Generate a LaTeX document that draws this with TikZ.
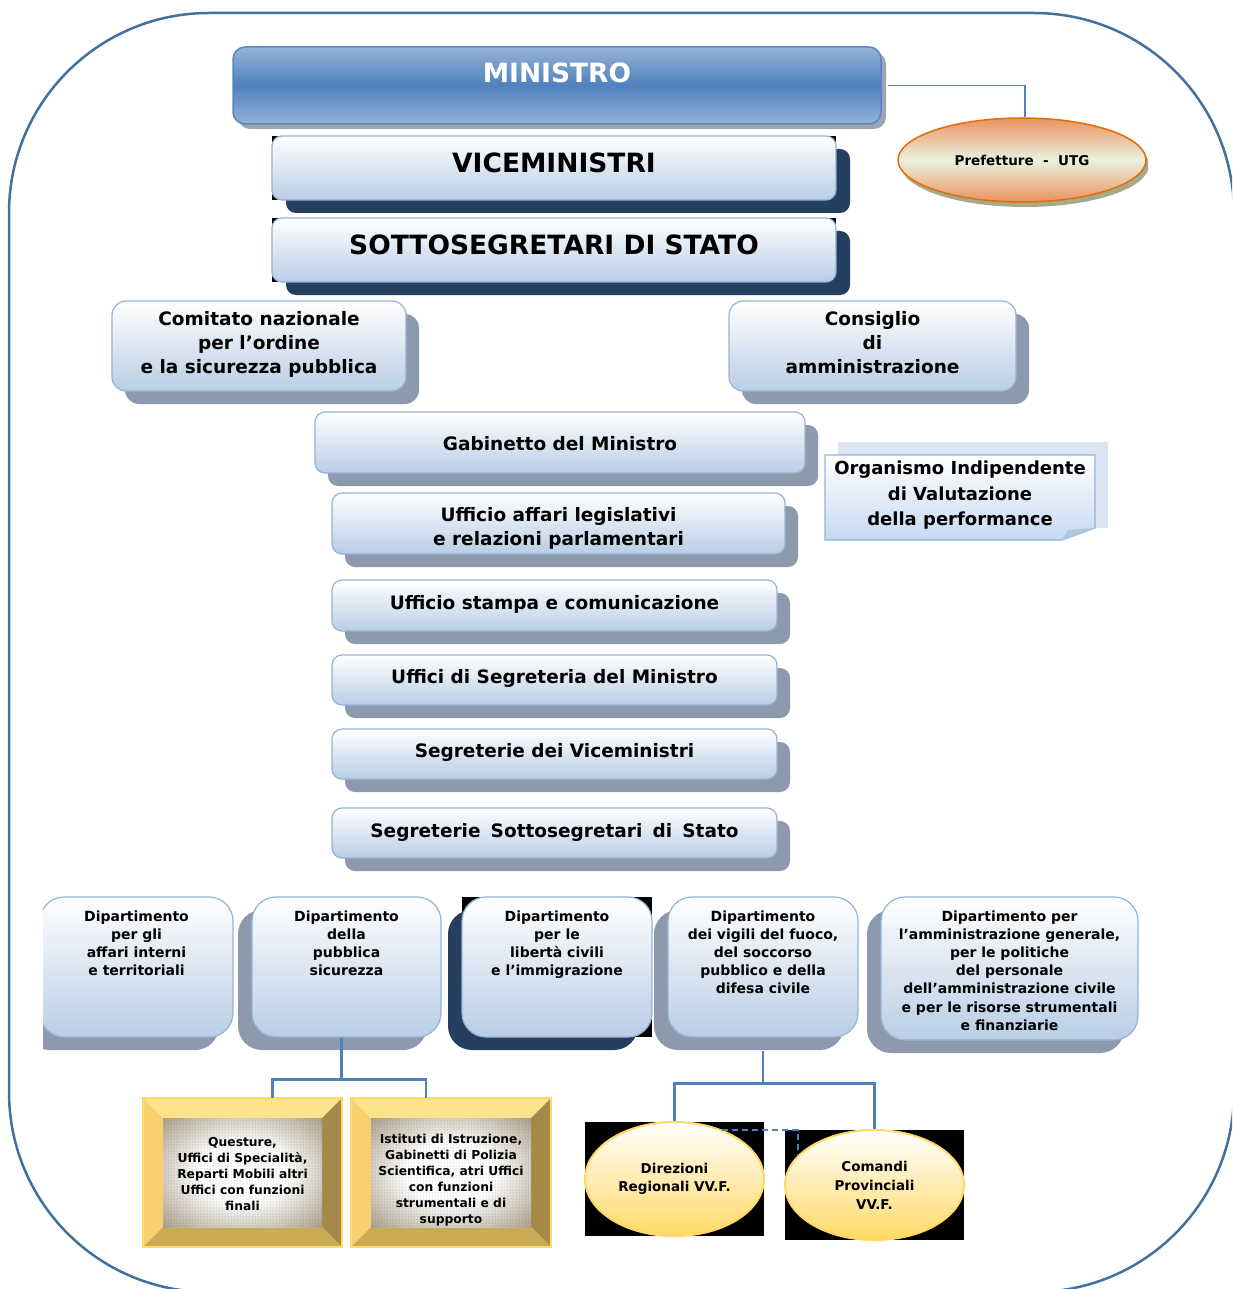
\documentclass[tikz,border=0pt]{standalone}
\usepackage{fontspec}
\setmainfont{DejaVu Sans}
\usetikzlibrary{shapes.geometric,shadows,patterns}
\definecolor{framec}{HTML}{41719C}
\definecolor{bbd}{HTML}{95B3D7}
\definecolor{bbot}{HTML}{B9CDE5}
\definecolor{navy}{HTML}{243F60}
\definecolor{sgray}{HTML}{8D9AAD}
\definecolor{mtop}{HTML}{95B3D7}
\definecolor{mmid}{HTML}{4F81BD}
\definecolor{mbd}{HTML}{5A87C2}
\definecolor{mshd}{HTML}{9CA6B3}
\definecolor{conc}{HTML}{4F81BD}
\definecolor{pora}{HTML}{E46C0A}
\definecolor{porl}{HTML}{E9935F}
\definecolor{pmid}{HTML}{EBF1DE}
\definecolor{pshd}{HTML}{A4AB8B}
\definecolor{oback}{HTML}{DCE6F2}
\definecolor{obot}{HTML}{C6D9F1}
\definecolor{ofold}{HTML}{B3C7E0}
\definecolor{gold}{HTML}{FFD966}
\definecolor{goldb}{HTML}{FFDA6A}
\definecolor{ellb}{HTML}{FFD966}
\definecolor{bvt}{HTML}{FFE28C}
\definecolor{bvl}{HTML}{F6D06C}
\definecolor{bvr}{HTML}{A48A46}
\definecolor{bvb}{HTML}{CBAA56}
\definecolor{texo}{HTML}{A89D86}
\definecolor{texd}{HTML}{8E846F}
\definecolor{dotc}{HTML}{4A4234}
\pgfdeclareradialshading{halo}{\pgfpoint{0bp}{0bp}}{color(0bp)=(white); color(14bp)=(white); color(36bp)=(texo); color(50bp)=(texd); color(72bp)=(texd)}
\newcommand{\fsz}[2]{\fontsize{#1}{#2}\selectfont\bfseries}
\newcommand{\topblock}[4]{\begin{minipage}[c][#1][t]{#2}\centering\vspace*{#3}#4\end{minipage}}
\newcommand{\bevelbox}[4]{%
 \fill[bvt] (#1,#2) -- (#3,#2) -- (#3-20,#2+20) -- (#1+20,#2+20) -- cycle;
 \fill[bvl] (#1,#2) -- (#1+20,#2+20) -- (#1+20,#4-20) -- (#1,#4) -- cycle;
 \fill[bvr] (#3,#2) -- (#3,#4) -- (#3-20,#4-20) -- (#3-20,#2+20) -- cycle;
 \fill[bvb] (#1,#4) -- (#1+20,#4-20) -- (#3-20,#4-20) -- (#3,#4) -- cycle;
 \shade[shading=halo] (#1+20,#2+20) rectangle (#3-20,#4-20);
 \fill[pattern=dots, pattern color=dotc, opacity=.45] (#1+20,#2+20) rectangle (#3-20,#4-20);
 \draw[goldb, line width=2pt] (#1,#2) rectangle (#3,#4);
}
\tikzset{
 bx/.style={rectangle, rounded corners=10pt, draw=bbd, line width=1.2pt, top color=white, bottom color=bbot, inner sep=0pt},
 dept/.style={bx, rounded corners=24pt},
 navysh/.style={drop shadow={shadow xshift=14pt, shadow yshift=-13pt, fill=navy, opacity=1}},
 graysh/.style={drop shadow={shadow xshift=13pt, shadow yshift=-13pt, fill=sgray, opacity=1}},
 dshg/.style={drop shadow={shadow xshift=-14pt, shadow yshift=-13pt, fill=sgray, opacity=1}},
 dshn/.style={drop shadow={shadow xshift=-14pt, shadow yshift=-13pt, fill=navy, opacity=1}},
 ell/.style={ellipse, inner sep=0pt, minimum width=179pt, minimum height=114pt, draw=gold, line width=2pt, top color=white, bottom color=ellb, align=center},
 conn/.style={draw=conc, line width=2.4pt},
}
\begin{document}
\begin{tikzpicture}[x=1pt,y=-1pt]
\useasboundingbox (0,0) rectangle (1232,1289);
\clip (0,0) rectangle (1232,1289);
\fill[white] (0,0) rectangle (1232,1289);
% outer frame
\draw[framec, line width=2.5pt, rounded corners=200pt] (9,13) rectangle (1234,1292);

% MINISTRO
\node[bx, rounded corners=12pt, draw=mbd, line width=1.5pt, top color=mtop, bottom color=mtop, middle color=mmid,
      drop shadow={shadow xshift=5pt, shadow yshift=-5pt, fill=mshd, opacity=1}, text=white]
  (min) at (557,85.5) {\topblock{77pt}{648pt}{15.7pt}{\fsz{26.5}{30}MINISTRO}};

% Prefetture
\begin{scope}
\clip (880,100) rectangle (1148,220);
\node[ellipse, minimum width=248pt, minimum height=84pt, inner sep=0pt, draw=pora, line width=1.5pt,
      top color=porl, bottom color=porl, middle color=pmid,
      drop shadow={shadow xshift=3pt, shadow yshift=-5pt, fill=pshd, opacity=1}, font=\fsz{13.5}{16}]
  (pref) at (1022,160) {Prefetture\ \ -\ \ UTG};
\end{scope}
\draw[conn, line width=1.8pt] ([xshift=6pt]min.east) -| ([xshift=3pt]pref.north);

% VICEMINISTRI / SOTTOSEGRETARI
\fill (272,136) rectangle (836,200);
\node[bx, navysh] (vice) at (554,168) {\topblock{64pt}{564pt}{16.7pt}{\fsz{26.5}{30}VICEMINISTRI}};
\fill (272,218) rectangle (836,282);
\node[bx, navysh] (sotto) at (554,250) {\topblock{64pt}{564pt}{16.7pt}{\fsz{26.5}{30}SOTTOSEGRETARI DI STATO}};

% Comitato / Consiglio
\node[bx, rounded corners=14pt, graysh] (com) at (259,346)
  {\topblock{90pt}{294pt}{10.8pt}{\fsz{18.5}{24}Comitato nazionale\\per l’ordine\\e la sicurezza pubblica}};
\node[bx, rounded corners=14pt, graysh] (cda) at (872.5,346)
  {\topblock{90pt}{287pt}{10.8pt}{\fsz{18.5}{24}Consiglio\\di\\amministrazione}};

% Gabinetto
\node[bx, graysh] (gab) at (560,442.5) {\topblock{61pt}{490pt}{24.8pt}{\fsz{18.5}{24}Gabinetto del Ministro}};

% Organismo
\fill[oback] (838,442) rectangle (1108,528);
\draw[bbd, line width=1.2pt, top color=white, bottom color=obot] (825,455) -- (1095,455) -- (1095,528) -- (1062,540) -- (825,540) -- cycle;
\fill[ofold] (1062,540) -- (1095,528) -- (1068,530) -- cycle;
\node[inner sep=0pt] (oiv) at (960,497.5)
  {\topblock{85pt}{270pt}{6pt}{\fsz{18}{25.5}Organismo Indipendente\\di Valutazione\\della performance}};

% Uffici
\node[bx, graysh] (ual) at (558.5,523.5) {\topblock{61pt}{453pt}{14.8pt}{\fsz{18.5}{24}Ufficio affari legislativi\\e relazioni parlamentari}};
\node[bx, graysh] (ust) at (554.5,605.5) {\topblock{51pt}{445pt}{15.8pt}{\fsz{18.5}{24}Ufficio stampa e comunicazione}};
\node[bx, graysh] (useg) at (554.5,680) {\topblock{50pt}{445pt}{14.8pt}{\fsz{18.5}{24}Uffici di Segreteria del Ministro}};
\node[bx, graysh] (svm) at (554.5,754) {\topblock{50pt}{445pt}{14.8pt}{\fsz{18.5}{24}Segreterie dei Viceministri}};
\node[bx, graysh] (sss) at (554.5,833) {\topblock{50pt}{445pt}{15.8pt}{\fsz{18.5}{24}Segreterie\hspace{0.55em}Sottosegretari\hspace{0.55em}di\hspace{0.55em}Stato}};

% Dipartimenti
\begin{scope}
\clip (43,880) rectangle (300,1070);
\node[dept, dshg] (d1) at (136.5,967)
  {\topblock{140pt}{193pt}{13.5pt}{\fsz{14}{18}Dipartimento\\per gli\\affari interni\\e territoriali}};
\end{scope}
\node[dept, dshg] (d2) at (346.5,967)
  {\topblock{140pt}{189pt}{13.5pt}{\fsz{14}{18}Dipartimento\\della\\pubblica\\sicurezza}};
\fill (462,897) rectangle (652,1037);
\node[dept, dshn] (d3) at (557,967)
  {\topblock{140pt}{190pt}{13.5pt}{\fsz{14}{18}Dipartimento\\per le\\libertà civili\\e l’immigrazione}};
\node[dept, dshg] (d4) at (763,967)
  {\topblock{140pt}{190pt}{13.5pt}{\fsz{14}{18}Dipartimento\\dei vigili del fuoco,\\del soccorso\\pubblico e della\\difesa civile}};
\node[dept, dshg] (d5) at (1009.5,968.5)
  {\topblock{143pt}{257pt}{13.5pt}{\fsz{14}{18.2}Dipartimento per\\l’amministrazione generale,\\per le politiche\\del personale\\dell’amministrazione civile\\e per le risorse strumentali\\e finanziarie}};

% Yellow boxes
\bevelbox{143}{1098}{342}{1247}
\node[inner sep=0pt] (q1) at (242.5,1172.5)
  {\topblock{149pt}{199pt}{39.2pt}{\fsz{12.3}{16}Questure,\\Uffici di Specialità,\\Reparti Mobili altri\\Uffici con funzioni\\finali}};
\bevelbox{351}{1098}{551}{1247}
\node[inner sep=0pt] (q2) at (451,1172.5)
  {\topblock{149pt}{200pt}{36.2pt}{\fsz{12.3}{16}Istituti di Istruzione,\\Gabinetti di Polizia\\Scientifica, atri Uffici\\con funzioni\\strumentali e di\\supporto}};

% Ellipses
\fill (585,1122) rectangle (764,1236);
\fill (785,1130) rectangle (964,1240);
\node[ell, font=\fsz{13.5}{18}] (e1) at (674.5,1179) {Direzioni\\Regionali VV.F.};
\node[ell, minimum height=110pt, font=\fsz{13.5}{19}] (e2) at (874.5,1185) {Comandi\\Provinciali\\VV.F.};

% connectors
\draw[conn] ([xshift=-5pt]d2.south) -- ++(0,42) coordinate (j1);
\draw[conn] ([xshift=30pt]q1.north) |- (j1) -| ([xshift=-25pt]q2.north);
\draw[conn] ([yshift=-13pt]d4.south) -- ++(0,33) coordinate (j2);
\draw[conn] (e1.north) |- (j2) -| (e2.north);
\draw[conn, line width=2pt, dash pattern=on 6pt off 4pt] (e1.46) -| (e2.159);
\end{tikzpicture}
\end{document}
